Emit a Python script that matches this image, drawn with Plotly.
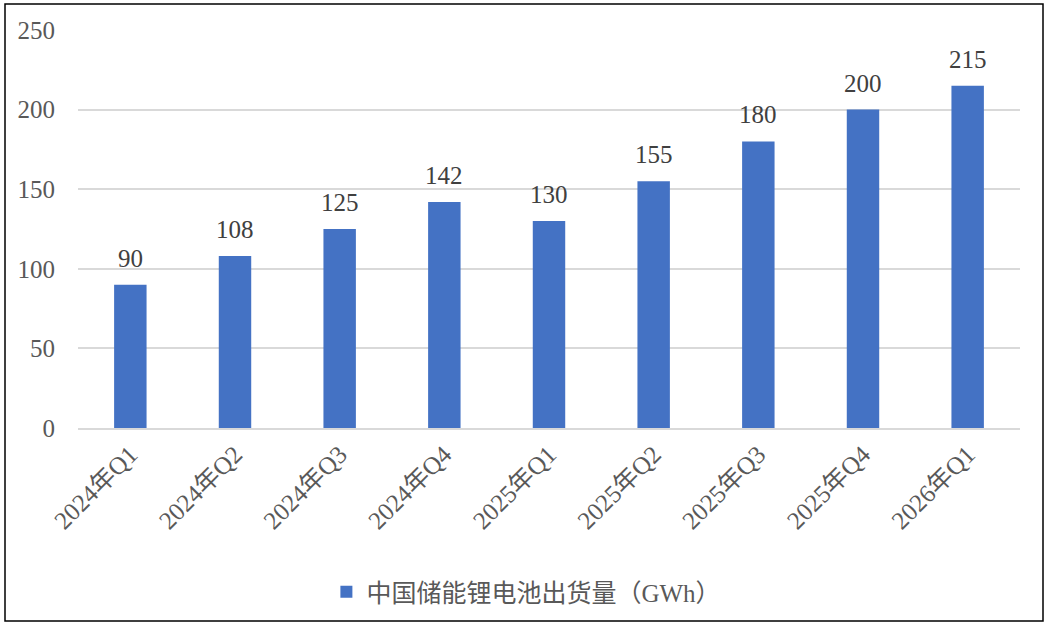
import plotly.graph_objects as go

quarters = ["2024年Q1", "2024年Q2", "2024年Q3", "2024年Q4",
            "2025年Q1", "2025年Q2", "2025年Q3", "2025年Q4", "2026年Q1"]
shipments = [90, 108, 125, 142, 130, 155, 180, 200, 215]
series_name = "中国储能锂电池出货量（GWh）"

W, H = 1049, 627
L, R, T, B = 78, 29, 30, 199
pw, ph = W - L - R, H - T - B

font_family = "Liberation Serif, Times New Roman, Noto Sans CJK SC, serif"

fig = go.Figure()
fig.add_trace(go.Bar(
    x=quarters, y=shipments, name=series_name,
    marker=dict(color="#4472C4", line=dict(width=0)),
))

# value labels above each bar
for q, v in zip(quarters, shipments):
    fig.add_annotation(x=q, y=v, text=str(v), showarrow=False,
                       yanchor="bottom", yshift=11,
                       font=dict(size=25, color="#404040", family=font_family))

fig.update_layout(
    width=W, height=H,
    margin=dict(l=L, r=R, t=T, b=B),
    plot_bgcolor="white", paper_bgcolor="white",
    font=dict(family=font_family, color="#595959", size=25),
    bargap=0.69,
    showlegend=True,
    legend=dict(orientation="h", x=0.476, xanchor="center",
                y=(T + ph - 592) / ph, yanchor="middle",
                font=dict(size=25, color="#595959")),
    shapes=[dict(type="rect", xref="paper", yref="paper",
                 x0=(5 - L) / pw, x1=(1043 - L) / pw,
                 y0=(T + ph - 621) / ph, y1=(T + ph - 4) / ph,
                 line=dict(color="black", width=1.5))],
)
fig.update_xaxes(tickangle=-45, showline=True, linecolor="#D9D9D9", linewidth=1.5,
                 ticks="", tickfont=dict(size=25, color="#595959"))
fig.update_yaxes(range=[0, 250], dtick=50, showgrid=True, gridcolor="#D9D9D9",
                 gridwidth=1.5, zeroline=False, showline=False, ticks="",
                 tickfont=dict(size=25, color="#595959"), ticklabelstandoff=22)

fig.write_html("out.html", config={"displayModeBar": False},
               post_script="document.body.style.margin='0';")
